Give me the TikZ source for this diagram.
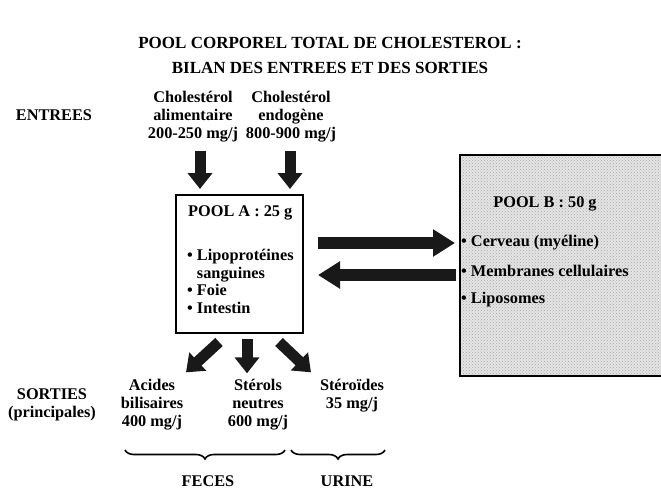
\documentclass[tikz,border=0pt]{standalone}
\usepackage{fontspec}
\setmainfont{Liberation Serif}
\usetikzlibrary{arrows.meta,decorations.pathreplacing,patterns}
\begin{document}
\begin{tikzpicture}[x=1pt,y=-1pt,
  txt/.style={font=\bfseries\fontsize{16.3}{18}\selectfont, inner sep=0pt, align=center},
  bigarrow/.style={line width=11pt, -{Triangle[length=16pt,width=24pt]}, black!90},
  hzarrow/.style={line width=12pt, -{Triangle[length=22pt,width=26pt]}, black!90},
  poolbox/.style={draw, line width=2pt, inner sep=0pt},
  bracestyle/.style={decorate, decoration={brace, amplitude=9pt, mirror}, line width=1.6pt}]
\useasboundingbox (0,0) rectangle (661,495);
\fill[white] (0,0) rectangle (661,495);
% title
\node[txt, font=\bfseries\fontsize{17}{25}\selectfont] (title) at (330,55) {POOL CORPOREL TOTAL DE CHOLESTEROL :\\BILAN DES ENTREES ET DES SORTIES};
% inputs
\node[txt] (entrees) at (54,115) {ENTREES};
\node[txt] (alim) at (193,117) {Cholestérol\\alimentaire\\200-250 mg/j};
\node[txt] (endo) at (291,117) {Cholestérol\\endogène\\800-900 mg/j};
% pool A
\node[poolbox, minimum width=127pt, minimum height=138pt] (poolA) at (239.5,264) {};
\node[txt, anchor=west] (poolAtitle) at (188,213) {POOL A : 25 g};
\node[txt, anchor=north west, align=left, font=\bfseries\fontsize{16.3}{17.7}\selectfont] (poolAlist) at (187,249)
  {• Lipoprotéines\\\hphantom{• }sanguines\\• Foie\\• Intestin};
% pool B
\node[poolbox, preaction={fill=gray!20}, pattern=crosshatch dots, pattern color=gray!70, minimum width=215pt, minimum height=221pt, anchor=north west] (poolB) at (459,154) {};
\node[txt] (poolBtitle) at (545,204) {POOL B : 50 g};
\node[txt, anchor=west] (cerveau) at (461,243) {• Cerveau (myéline)};
\node[txt, anchor=west] (membr) at (461,271) {• Membranes cellulaires};
\node[txt, anchor=west] (lipos) at (461,300) {• Liposomes};
% outputs
\node[txt] (sorties) at (52,405) {SORTIES\\(principales)};
\node[txt] (acides) at (152,405) {Acides\\bilisaires\\400 mg/j};
\node[txt] (sterols) at (258,405) {Stérols\\neutres\\600 mg/j};
\node[txt] (steroides) at (352,396) {Stéroïdes\\35 mg/j};
\node[txt] (feces) at (208,481) {FECES};
\node[txt] (urine) at (347,481) {URINE};
% input arrows
\draw[bigarrow] (alim.south -| 200,0) ++(0,8) -- ([yshift=5pt]poolA.north -| 200,0);
\draw[bigarrow] (endo.south -| 290,0) ++(0,8) -- ([yshift=5pt]poolA.north -| 290,0);
% exchange arrows
\draw[hzarrow] ([xshift=14pt]poolA.east |- 0,243) -- ([xshift=-4pt]poolB.west |- 0,243);
\draw[hzarrow] ([xshift=-3pt]poolB.west |- 0,275) -- ([xshift=14pt]poolA.east |- 0,275);
% output arrows
\draw[bigarrow] ([yshift=-8pt]poolA.south -| 219,0) -- ([yshift=7pt]acides.north -| 186,0);
\draw[bigarrow] ([yshift=-5pt]poolA.south -| 247,0) -- ([yshift=6pt]sterols.north -| 247,0);
\draw[bigarrow] ([yshift=-8pt]poolA.south -| 279,0) -- ([yshift=7pt]steroides.north -| 311,0);
% braces
\coordinate (b1a) at (125,450);
\coordinate (b1b) at (285,450);
\coordinate (b2a) at (291,450);
\coordinate (b2b) at (385,450);
\draw[bracestyle] (b1a) -- (b1b);
\draw[bracestyle] (b2a) -- (b2b);
\end{tikzpicture}
\end{document}
